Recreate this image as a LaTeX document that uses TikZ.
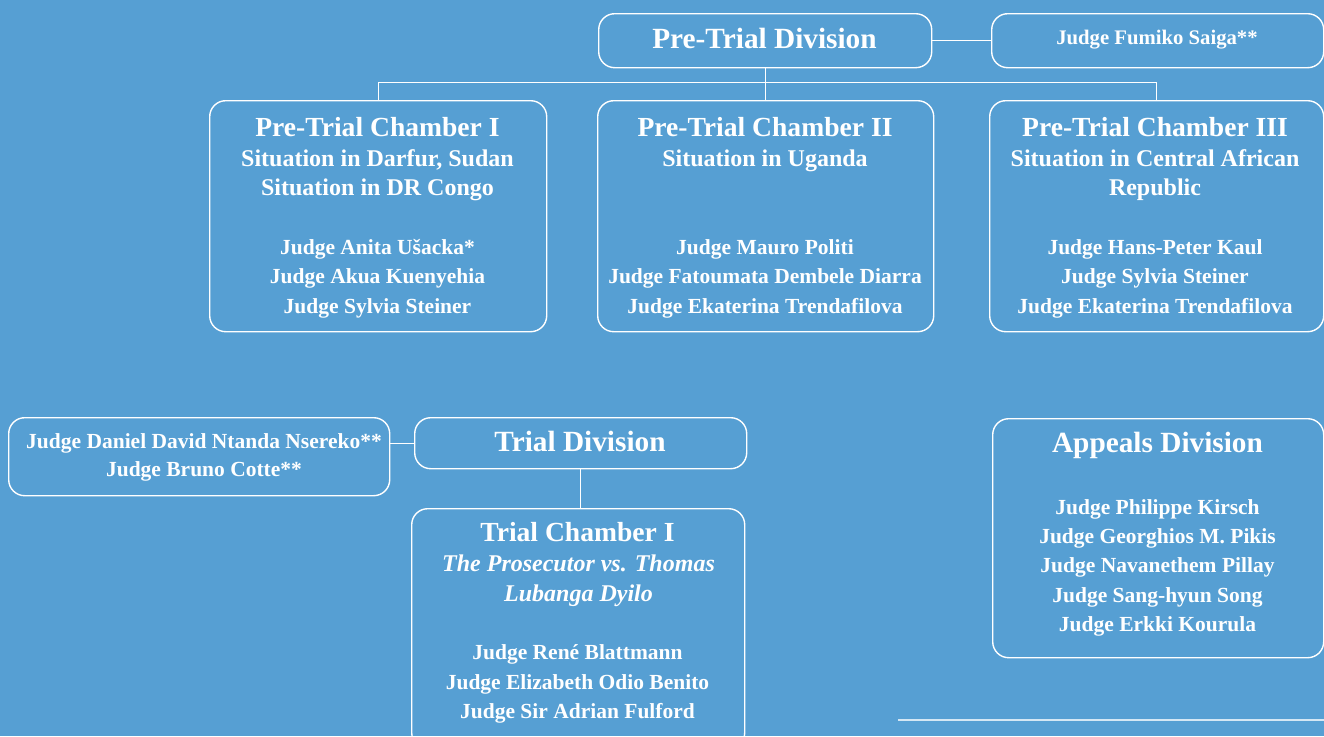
\documentclass[tikz,border=0pt]{standalone}
\usepackage{fontspec}
\setmainfont{Liberation Serif}
\definecolor{bg}{RGB}{86,159,211}
\begin{document}
\begin{tikzpicture}[x=1pt,y=-1pt,
  box/.style={draw=white,line width=1.4pt,rounded corners=16pt,anchor=north west,inner sep=0pt},
  conn/.style={draw=white,line width=1.3pt},
  ttl/.style={anchor=base,text=white,inner sep=0pt,font=\bfseries\fontsize{27.6}{30}\selectfont},
  div/.style={anchor=base,text=white,inner sep=0pt,font=\bfseries\fontsize{29.3}{32}\selectfont},
  sub/.style={anchor=base,text=white,inner sep=0pt,font=\bfseries\fontsize{24}{28}\selectfont},
  itl/.style={anchor=base,text=white,inner sep=0pt,font=\bfseries\itshape\fontsize{24}{28}\selectfont},
  jdg/.style={anchor=base,text=white,inner sep=0pt,font=\bfseries\fontsize{21.5}{26}\selectfont}]
\fill[bg] (0,0) rectangle (1324,736);
\useasboundingbox (0,0) rectangle (1324,736);
% boxes
\node[box,minimum width=333pt,minimum height=54pt] (ptd) at (598,13) {};
\node[box,minimum width=332pt,minimum height=54pt] (saiga) at (991,13) {};
\node[box,minimum width=337pt,minimum height=231pt] (ptc1) at (209,100) {};
\node[box,minimum width=336pt,minimum height=231pt] (ptc2) at (597,100) {};
\node[box,minimum width=334pt,minimum height=231pt] (ptc3) at (989,100) {};
\node[box,minimum width=381pt,minimum height=78pt] (nser) at (8,417) {};
\node[box,minimum width=332pt,minimum height=51pt] (tdiv) at (414,417) {};
\node[box,minimum width=333pt,minimum height=240pt] (tc1) at (411,508) {};
\node[box,minimum width=331pt,minimum height=239pt] (apd) at (992,418) {};
% connectors
\path (ptd.south) ++(0,14) coordinate (bus);
\draw[conn] (ptd.east) -- (saiga.west);
\draw[conn] (ptd.south) -- (ptd.south |- ptc2.north);
\draw[conn] (bus) -| (ptc1.north);
\draw[conn] (bus) -| (ptc3.north);
\draw[conn] (tdiv.west) -- (tdiv.west -| nser.east);
\draw[conn] (tdiv.south) -- (tdiv.south |- tc1.north);
\coordinate (rl1) at (898,720);
\coordinate (rl2) at (1324,720);
\draw[draw=white!75!bg,line width=2pt] (rl1) -- (rl2);
% texts
\node[div] (tptd) at (764.5,48) {Pre-Trial Division};
\node[jdg,font=\bfseries\fontsize{20.7}{24}\selectfont] (tsaiga) at (1157,44) {Judge Fumiko Saiga**};
% PTC I
\node[ttl] (t1a) at (377.5,136) {Pre-Trial Chamber I};
\node[sub] (t1b) at (377.5,166) {Situation in Darfur, Sudan};
\node[sub] (t1c) at (377.5,195) {Situation in DR Congo};
\node[jdg] (t1d) at (377.5,254) {Judge Anita Ušacka*};
\node[jdg] (t1e) at (377.5,283) {Judge Akua Kuenyehia};
\node[jdg] (t1f) at (377.5,313) {Judge Sylvia Steiner};
% PTC II
\node[ttl] (t2a) at (765,136) {Pre-Trial Chamber II};
\node[sub] (t2b) at (765,166) {Situation in Uganda};
\node[jdg] (t2d) at (765,254) {Judge Mauro Politi};
\node[jdg] (t2e) at (765,283) {Judge Fatoumata Dembele Diarra};
\node[jdg] (t2f) at (765,313) {Judge Ekaterina Trendafilova};
% PTC III
\node[ttl] (t3a) at (1155,136) {Pre-Trial Chamber III};
\node[sub] (t3b) at (1155,166) {Situation in Central African};
\node[sub] (t3c) at (1155,195) {Republic};
\node[jdg] (t3d) at (1155,254) {Judge Hans-Peter Kaul};
\node[jdg] (t3e) at (1155,283) {Judge Sylvia Steiner};
\node[jdg] (t3f) at (1155,313) {Judge Ekaterina Trendafilova};
% Trial division
\node[jdg] (tn1) at (204,448) {Judge Daniel David Ntanda Nsereko**};
\node[jdg] (tn2) at (204,476) {Judge Bruno Cotte**};
\node[div] (ttd) at (580,451) {Trial Division};
% Trial Chamber I
\node[ttl] (tc1a) at (577.5,541) {Trial Chamber I};
\node[itl] (tc1b) at (578.5,571) {The Prosecutor vs. Thomas};
\node[itl] (tc1c) at (578.5,601) {Lubanga Dyilo};
\node[jdg] (tc1d) at (577.5,659) {Judge René Blattmann};
\node[jdg] (tc1e) at (577.5,689) {Judge Elizabeth Odio Benito};
\node[jdg] (tc1f) at (577.5,718) {Judge Sir Adrian Fulford};
% Appeals
\node[div] (tap) at (1157.5,452) {Appeals Division};
\node[jdg] (ta1) at (1157.5,514) {Judge Philippe Kirsch};
\node[jdg] (ta2) at (1157.5,543) {Judge Georghios M. Pikis};
\node[jdg] (ta3) at (1157.5,572) {Judge Navanethem Pillay};
\node[jdg] (ta4) at (1157.5,602) {Judge Sang-hyun Song};
\node[jdg] (ta5) at (1157.5,631) {Judge Erkki Kourula};
\end{tikzpicture}
\end{document}
